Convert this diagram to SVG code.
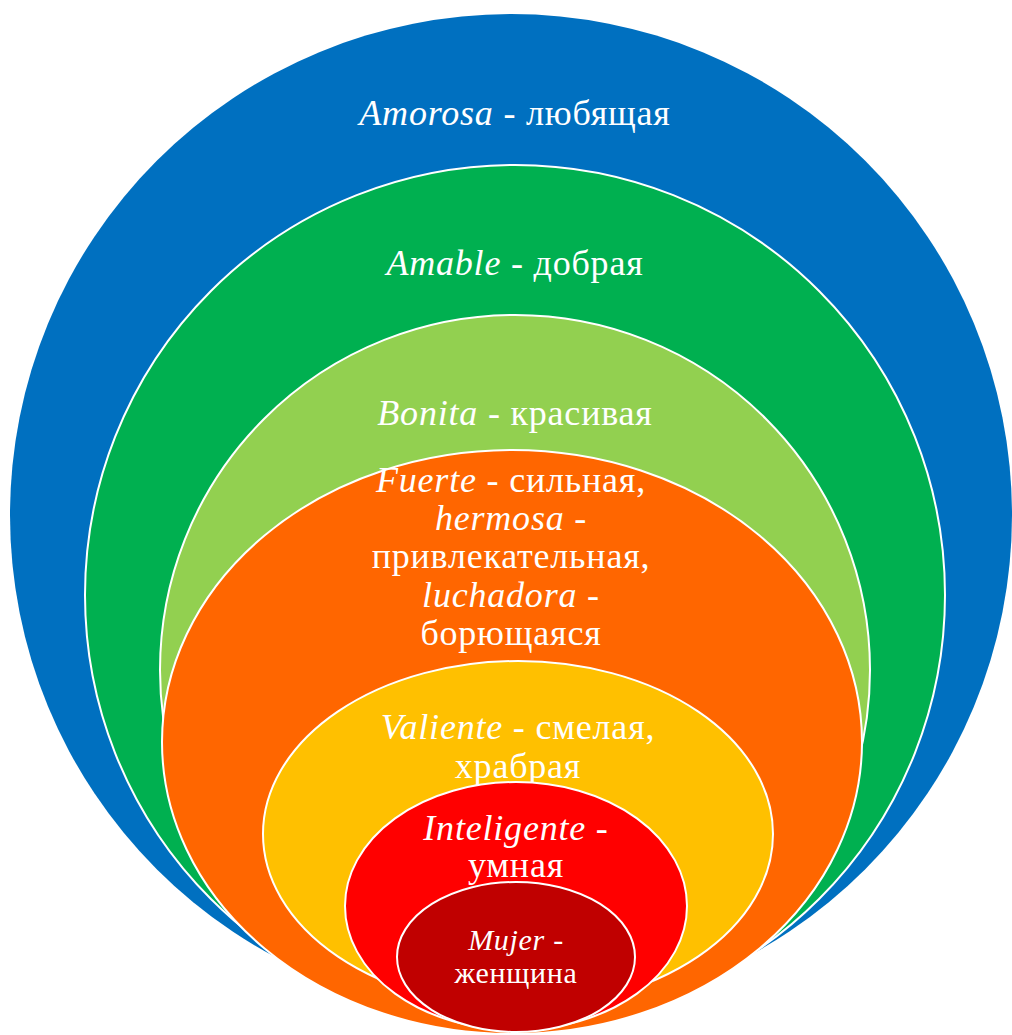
<svg xmlns="http://www.w3.org/2000/svg" width="1012" height="1035" viewBox="0 0 1012 1035">
<style>
  .ring { stroke: #FFFFFF; stroke-width: 2; }
  .lbl { font-family: "Liberation Serif", "Times New Roman", serif; font-size: 36px; letter-spacing: 0.8px; fill: #FFFFFF; text-anchor: middle; }
  .sm { font-size: 30px; letter-spacing: 0.7px; }
  .it { font-style: italic; }
</style>
<rect width="1012" height="1035" fill="#FFFFFF"/>
<g id="amorosa">
  <circle cx="511" cy="515" r="501" fill="#0070C0"/>
  <text class="lbl" x="515" y="125"><tspan class="it">Amorosa</tspan> - любящая</text>
</g>
<g id="amable">
  <circle class="ring" cx="515" cy="595" r="430" fill="#00B050"/>
  <text class="lbl" x="515" y="275"><tspan class="it">Amable</tspan> - добрая</text>
</g>
<g id="bonita">
  <circle class="ring" cx="515" cy="670" r="355" fill="#92D050"/>
  <text class="lbl" x="515" y="425"><tspan class="it">Bonita</tspan> - красивая</text>
</g>
<g id="fuerte">
  <ellipse class="ring" cx="512" cy="742" rx="350" ry="292" fill="#FF6600"/>
  <text class="lbl" x="511" y="492"><tspan class="it">Fuerte</tspan> - сильная,</text>
  <text class="lbl" x="511" y="530"><tspan class="it">hermosa</tspan> -</text>
  <text class="lbl" x="511" y="568">привлекательная,</text>
  <text class="lbl" x="511" y="607"><tspan class="it">luchadora</tspan> -</text>
  <text class="lbl" x="511" y="645">борющаяся</text>
</g>
<g id="valiente">
  <ellipse class="ring" cx="518" cy="834" rx="255" ry="173" fill="#FFC000"/>
  <text class="lbl" x="518" y="739"><tspan class="it">Valiente</tspan> - смелая,</text>
  <text class="lbl" x="518" y="778">храбрая</text>
</g>
<g id="inteligente">
  <ellipse class="ring" cx="516" cy="906" rx="171" ry="124" fill="#FF0000"/>
  <text class="lbl" x="516" y="840"><tspan class="it">Inteligente</tspan> -</text>
  <text class="lbl" x="516" y="877">умная</text>
</g>
<g id="mujer">
  <ellipse class="ring" cx="516" cy="957" rx="119" ry="75" fill="#C00000"/>
  <text class="lbl sm" x="516" y="950"><tspan class="it">Mujer</tspan> -</text>
  <text class="lbl sm" x="516" y="983">женщина</text>
</g>
</svg>
